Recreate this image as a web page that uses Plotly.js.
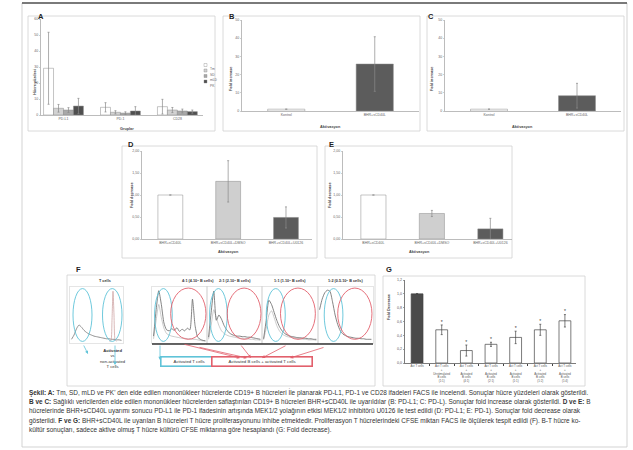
<!DOCTYPE html>
<html><head><meta charset="utf-8">
<script src="https://cdn.plot.ly/plotly-3.0.1.min.js"></script>
<style>html,body{margin:0;padding:0;background:#fff}#c{width:633px;height:450px}</style>
</head><body><div id="c"></div>
<script>
// ---------- DATA ----------
const groupsA = ['PD-L1', 'PD-1', 'CD28'];
const seriesA = ['Tm', 'SD', 'mLD', 'PK'];
const valsTm  = [29.2, 4.8, 5.2];  const errTm  = [22.5, 2.9, 4.6];
const valsSD  = [4.2, 1.7, 3.1];   const errSD  = [2.4, 1.0, 1.6];
const valsMLD = [3.1, 1.2, 2.5];   const errMLD = [1.5, 0.8, 1.2];
const valsPK  = [5.6, 2.5, 2.1];   const errPK  = [4.8, 2.7, 1.0];

const catsBC = ['Kontrol', 'BHR+sCD40L'];
const valsB = [1, 25.8];  const errB = [0, 15];
const valsC = [1, 8.4];   const errC = [0, 6.8];

const catsDE = ['BHR+sCD40L', 'BHR+sCD40L+DMSO', 'BHR+sCD40L+U0126'];
const valsD = [1, 1.31, 0.49];  const errD = [0, 0.47, 0.24];
const valsE = [1, 0.58, 0.23];  const errE = [0, 0.07, 0.24];

const catsG = ['Act T cells',
  'Act T cells<br>+<br>Unstimulated<br>B cells<br>(1:1)',
  'Act T cells<br>+<br>Activated<br>B cells<br>(4:1)',
  'Act T cells<br>+<br>Activated<br>B cells<br>(2:1)',
  'Act T cells<br>+<br>Activated<br>B cells<br>(1:1)',
  'Act T cells<br>+<br>Activated<br>B cells<br>(1:2)',
  'Act T cells<br>+<br>Activated<br>B cells<br>(1:4)'];
const valsG = [1.0, 0.48, 0.18, 0.27, 0.37, 0.48, 0.61];
const errG  = [0.005, 0.07, 0.08, 0.03, 0.09, 0.08, 0.09];
const starsG = ['', '*', '*', '*', '*', '*', '*'];

// CFSE histograms (panel F)
const histTitles = ['T cells', '4:1 (4.10⁶ B cells)', '2:1 (2.10⁶ B cells)', '1:1 (1.10⁶ B cells)', '1:2 (0.5.10⁶ B cells)'];
const hX = [0,0.5,1,1.5,2,2.5,3,3.5,4,4.5,5,5.5,6,6.5,7,7.5,8,8.5,9,9.5,10];
const hT   = [4,12,24,31,27,21,17,14,12,10,9,8,7,6,5,5,4,4,3,3,2];
const hTnX = [7.6,7.9,8.1,8.3,8.5,8.7,9.0];
const hTnY = [0,2,40,95,50,4,0];
const h41  = [10,60,96,70,35,22,20,24,21,26,19,23,20,25,22,80,30,8,4,2,1];
const h41b = [5,40,70,45,25,15,12,10,9,8,7,6,6,5,5,4,4,3,2,1,1];
const h21  = [8,55,95,40,50,42,30,22,16,13,11,10,10,9,9,8,8,7,6,5,4];
const h21b = [4,30,60,45,30,20,15,12,10,9,8,7,6,6,5,5,4,4,3,3,2];
const h11  = [5,40,78,70,55,40,28,20,15,12,10,9,8,7,7,6,6,5,5,4,4];
const h11b = [3,25,50,58,45,30,20,14,11,9,8,7,6,5,5,4,4,3,3,3,2];
const h12  = [60,80,92,97,95,75,50,32,20,14,11,9,8,7,6,6,5,5,4,4,4];

const captionLines = [
  '<b>Şekil: A:</b> Tm, SD, mLD ve PK\' den elde edilen mononükleer hücrelerde CD19+ B hücreleri İle planarak PD-L1, PD-1 ve CD28 ifadeleri FACS ile incelendi. Sonuçlar hücre yüzdeleri olarak gösterildi.',
  '<b>B ve C:</b> Sağlıklı vericilerden elde edilen mononükleer hücrelerden saflaştırılan CD19+ B hücreleri BHR+sCD40L ile uyarıldılar (B: PD-L1; C: PD-L). Sonuçlar fold increase olarak gösterildi. <b>D ve E:</b> B',
  'hücrelerinde BHR+sCD40L uyarımı sonucu PD-L1 ile PD-1 ifadesinin artışında MEK1/2 yolağının etkisi MEK1/2 inhibitörü U0126 ile test edildi (D: PD-L1; E: PD-1). Sonuçlar fold decrease olarak',
  'gösterildi. <b>F ve G:</b> BHR+sCD40L ile uyarılan B hücreleri T hücre proliferasyonunu inhibe etmektedir. Proliferasyon T hücrelerindeki CFSE miktarı FACS ile ölçülerek tespit edildi (F). B-T hücre ko-',
  'kültür sonuçları, sadece aktive olmuş T hücre kültürü CFSE miktarına göre hesaplandı (G: Fold decrease).'
];

// ---------- HELPERS ----------
const W = 633, H = 450;
const FONT = 'Liberation Sans, Arial, Helvetica, sans-serif';
const px = v => v / W;
const py = v => 1 - v / H;
const xd = (a, b) => [a / W, b / W];
const yd = (top, bot) => [1 - bot / H, 1 - top / H];
const EB = arr => ({type: 'data', array: arr, visible: true, color: '#8a8a8a', thickness: 0.7, width: 1});
const CYAN = '#5fc3d8', RED = '#e2606c';

function xAx(dom, anchor, range, extra) {
  return Object.assign({domain: dom, anchor: anchor, range: range, showgrid: false, zeroline: false,
    showline: true, linecolor: '#a0a0a0', linewidth: 0.7, ticks: '', tickangle: 0,
    tickfont: {size: 3.5, color: '#666', family: FONT}, fixedrange: true}, extra || {});
}
function yAx(dom, anchor, range, dtick, extra) {
  return Object.assign({domain: dom, anchor: anchor, range: range, dtick: dtick, showgrid: false, zeroline: false,
    showline: true, linecolor: '#a0a0a0', linewidth: 0.7, ticks: 'outside', ticklen: 1.5, tickwidth: 0.5,
    tickcolor: '#a0a0a0', tickfont: {size: 3.5, color: '#666', family: FONT}, fixedrange: true}, extra || {});
}

// ---------- TRACES ----------
const traces = [];
const colA = ['#ffffff', '#d2d2d2', '#a8a8a8', '#4f4f4f'];
const vA = [valsTm, valsSD, valsMLD, valsPK], eA = [errTm, errSD, errMLD, errPK];
seriesA.forEach((s, i) => traces.push({type: 'bar', name: s, x: groupsA, y: vA[i], error_y: EB(eA[i]),
  marker: {color: colA[i], line: {color: '#8a8a8a', width: 0.5}}, xaxis: 'x', yaxis: 'y', hoverinfo: 'none'}));

traces.push({type: 'bar', x: catsBC, y: valsB, error_y: EB(errB), width: 0.42,
  marker: {color: ['#ffffff', '#5c5c5c'], line: {color: '#8a8a8a', width: 0.5}}, xaxis: 'x2', yaxis: 'y2'});
traces.push({type: 'bar', x: catsBC, y: valsC, error_y: EB(errC), width: 0.42,
  marker: {color: ['#ffffff', '#5c5c5c'], line: {color: '#8a8a8a', width: 0.5}}, xaxis: 'x3', yaxis: 'y3'});
traces.push({type: 'bar', x: catsDE, y: valsD, error_y: EB(errD), width: 0.43,
  marker: {color: ['#ffffff', '#cfcfcf', '#5c5c5c'], line: {color: '#8a8a8a', width: 0.5}}, xaxis: 'x4', yaxis: 'y4'});
traces.push({type: 'bar', x: catsDE, y: valsE, error_y: EB(errE), width: 0.43,
  marker: {color: ['#ffffff', '#cfcfcf', '#5c5c5c'], line: {color: '#8a8a8a', width: 0.5}}, xaxis: 'x5', yaxis: 'y5'});
traces.push({type: 'bar', x: catsG, y: valsG, error_y: Object.assign(EB(errG), {color: '#444'}), width: 0.48,
  marker: {color: ['#4a4a4a', '#fff', '#fff', '#fff', '#fff', '#fff', '#fff'], line: {color: '#444', width: 0.7}},
  xaxis: 'x6', yaxis: 'y6'});
traces.push({type: 'scatter', mode: 'text', x: catsG, y: valsG.map((v, i) => v + errG[i] + 0.035), text: starsG,
  textfont: {size: 5, color: '#333', family: FONT}, xaxis: 'x6', yaxis: 'y6', cliponaxis: false});

const hl = (x, y, ax, c, w) => ({type: 'scatter', mode: 'lines', x: x, y: y, xaxis: 'x' + ax, yaxis: 'y' + ax,
  line: {color: c, width: w || 0.8, shape: 'spline', smoothing: 0.6}, hoverinfo: 'none'});
traces.push(hl(hX, hT, 7, '#777'));
traces.push(hl(hTnX, hTnY, 7, '#c99a9a', 0.7));
traces.push(hl(hX, h41b, 8, '#aaa', 0.6)); traces.push(hl(hX, h41, 8, '#666'));
traces.push(hl(hX, h21b, 9, '#aaa', 0.6)); traces.push(hl(hX, h21, 9, '#666'));
traces.push(hl(hX, h11b, 10, '#aaa', 0.6)); traces.push(hl(hX, h11, 10, '#666'));
traces.push(hl(hX, h12, 11, '#666'));

// ---------- LAYOUT ----------
const layout = {
  width: W, height: H, margin: {l: 0, r: 0, t: 0, b: 0}, paper_bgcolor: '#fff', plot_bgcolor: 'rgba(0,0,0,0)',
  showlegend: false, barmode: 'group', bargap: 0.3, bargroupgap: 0, separators: ',.',
  font: {family: FONT, size: 4, color: '#555'},
  xaxis:  xAx(xd(41, 203), 'y', [-0.395, 2.45]),
  yaxis:  yAx(yd(19, 115), 'x', [0, 60], 10),
  xaxis2: xAx(xd(242, 419), 'y2', [-0.5, 1.5]),
  yaxis2: yAx(yd(20, 111), 'x2', [0, 50], 10),
  xaxis3: xAx(xd(445, 621), 'y3', [-0.5, 1.5]),
  yaxis3: yAx(yd(20, 111), 'x3', [0, 50], 10),
  xaxis4: xAx(xd(142, 312), 'y4', [-0.49, 2.45]),
  yaxis4: yAx(yd(151, 239), 'x4', [0, 2], 0.5, {tickformat: '.2f'}),
  xaxis5: xAx(xd(343, 512), 'y5', [-0.52, 2.37]),
  yaxis5: yAx(yd(151, 239), 'x5', [0, 2], 0.5, {tickformat: '.2f'}),
  xaxis6: xAx(xd(405, 576), 'y6', [-0.49, 6.45], {ticks: 'outside', tickson: 'boundaries', ticklen: 2,
    tickcolor: '#444', linecolor: '#444', tickfont: {size: 2.9, color: '#555', family: FONT}}),
  yaxis6: yAx(yd(280, 363), 'x6', [0, 1.2], 0.2, {tickformat: '.1f', linecolor: '#444', tickcolor: '#444',
    tickfont: {size: 3.6, color: '#555', family: FONT}}),
  shapes: [], annotations: []
};
const histDom = [[70, 123], [152, 207], [207, 262], [262, 318], [318, 373]];
histDom.forEach((d, i) => {
  const n = 7 + i;
  layout['xaxis' + n] = {domain: xd(d[0], d[1]), anchor: 'y' + n, range: [-0.3, 10.3], showgrid: false, zeroline: false,
    showline: true, mirror: true, linecolor: '#d4d4d4', linewidth: 0.6, showticklabels: false, ticks: '', fixedrange: true};
  layout['yaxis' + n] = {domain: yd(287, 343), anchor: 'x' + n, range: [-3, 103], showgrid: false, zeroline: false,
    showline: true, mirror: true, linecolor: '#d4d4d4', linewidth: 0.6, showticklabels: false, ticks: '', fixedrange: true};
  layout.annotations.push({text: '<b>' + histTitles[i] + '</b>', x: px((d[0] + d[1]) / 2), y: py(281), xref: 'paper', yref: 'paper',
    showarrow: false, font: {size: 3.8, color: '#333'}});
});

const S = layout.shapes, A = layout.annotations;
const rect = (x0, y0, x1, y1, c, w) => S.push({type: 'rect', xref: 'paper', yref: 'paper', x0: px(x0), x1: px(x1),
  y0: py(y1), y1: py(y0), line: {color: c || '#d0d0d0', width: w || 0.8}, layer: 'below'});
const line = (x0, y0, x1, y1, c, w) => S.push({type: 'line', xref: 'paper', yref: 'paper', x0: px(x0), x1: px(x1),
  y0: py(y0), y1: py(y1), line: {color: c, width: w}});
// outer frame and panel frames
rect(22, 3, 627, 447, '#c8c8c8', 0.8);
line(22, 3, 627, 3, '#555', 1.5);
rect(28, 16, 215, 131); rect(223, 16, 420, 131); rect(427, 16, 624, 131);
rect(122, 146, 317, 258); rect(325, 146, 512, 258);
rect(67, 275, 375, 386); rect(383, 276, 585, 386);
line(152, 344, 373, 344, '#333', 1.4);

// ellipses in panel F (data coords of the histogram axes)
const ell = (ax, x0, x1, y0, y1, c) => S.push({type: 'circle', xref: 'x' + ax, yref: 'y' + ax, x0: x0, x1: x1, y0: y0, y1: y1,
  line: {color: c, width: 0.9}});
ell(7, 0.3, 4.1, 0, 100, CYAN); ell(7, 6.2, 10.1, 0, 100, CYAN);
ell(8, 0.2, 3.6, 0, 100, CYAN); ell(8, 3.3, 10.1, 4, 101, RED);
ell(9, 0.2, 3.6, 0, 100, CYAN); ell(9, 3.6, 10.1, 4, 101, RED);
ell(10, 0.5, 4.1, 0, 100, CYAN); ell(10, 3.2, 9.8, 4, 101, RED);
ell(11, 0.9, 4.5, 0, 100, CYAN); ell(11, 3.5, 10.1, 4, 101, RED);

// legend of panel A (drawn manually, tiny)
seriesA.forEach((s, i) => {
  const yy = 65 + i * 5.5;
  S.push({type: 'rect', xref: 'paper', yref: 'paper', x0: px(204), x1: px(207), y0: py(yy + 1.5), y1: py(yy - 1.5),
    fillcolor: colA[i], line: {color: '#8a8a8a', width: 0.4}});
  A.push({text: s, x: px(208), y: py(yy), xref: 'paper', yref: 'paper', xanchor: 'left', showarrow: false,
    font: {size: 3.3, color: '#666'}});
});

// panel letters
[['A', 36, 10], ['B', 232, 10], ['C', 436, 10], ['D', 126, 138], ['E', 331, 138], ['F', 74, 269], ['G', 389, 269]]
  .forEach(l => A.push({text: '<b>' + l[0] + '</b>', x: px(l[1]), y: py(l[2]), xref: 'paper', yref: 'paper',
    showarrow: false, font: {size: 7.5, color: '#222'}}));

// axis titles
const axt = (t, x, y, ang) => A.push({text: '<b>' + t + '</b>', x: px(x), y: py(y), xref: 'paper', yref: 'paper',
  showarrow: false, textangle: ang || 0, font: {size: 3.8, color: '#444'}});
axt('Hücre yüzdesi', 31, 67, -90); axt('Gruplar', 118, 125);
axt('Fold increase', 231, 65, -90); axt('Aktivasyon', 330, 123);
axt('Fold increase', 436, 65, -90); axt('Aktivasyon', 535, 123);
axt('Fold decrease', 128, 195, -90); axt('Aktivasyon', 228, 252);
axt('Fold decrease', 330, 195, -90); axt('Aktivasyon', 432, 252);
axt('Fold Decrease', 389, 322, -90);

// panel F labels, boxes and arrows
A.push({text: '<b>Activated</b><br>vs<br>non-activated<br>T cells', x: px(98), y: py(371), xref: 'paper', yref: 'paper',
  showarrow: false, font: {size: 4.2, color: '#333'}});
A.push({text: 'Activated T cells', x: px(160), y: py(367), xref: 'paper', yref: 'paper', showarrow: false,
  bordercolor: CYAN, borderwidth: 1.6, borderpad: 1.5, bgcolor: '#fff', width: 52, font: {size: 4.3, color: '#333'}});
A.push({text: 'Activated B cells + activated T cells', x: px(262), y: py(367), xref: 'paper', yref: 'paper', showarrow: false,
  bordercolor: RED, borderwidth: 1.6, borderpad: 1.5, bgcolor: '#fff', width: 96, font: {size: 4.3, color: '#333'}});
const arr = (hx, hy, tx, ty, c) => A.push({text: '', x: px(hx), y: py(hy), xref: 'paper', yref: 'paper', showarrow: true,
  ax: tx - hx, ay: ty - hy, arrowhead: 2, arrowsize: 0.8, arrowwidth: 0.8, arrowcolor: c});
arr(88, 354, 83, 344, CYAN); arr(115, 365, 115, 344, CYAN); arr(160, 360, 160, 344, CYAN);
arr(240, 358, 183, 344, RED); arr(247, 358, 198, 347, RED); arr(251, 358, 240, 344, RED);
arr(262, 358, 287, 345, RED); arr(290, 358, 325, 347, RED);

// caption
const capY = [392, 401.5, 411, 420.5, 430];
captionLines.forEach((t, i) => A.push({text: t, x: px(27), y: py(capY[i]), xref: 'paper', yref: 'paper', xanchor: 'left',
  yanchor: 'middle', showarrow: false, align: 'left', font: {size: 6.45, color: '#333'}}));

Plotly.newPlot('c', traces, layout, {staticPlot: true, displayModeBar: false});
</script></body></html>
